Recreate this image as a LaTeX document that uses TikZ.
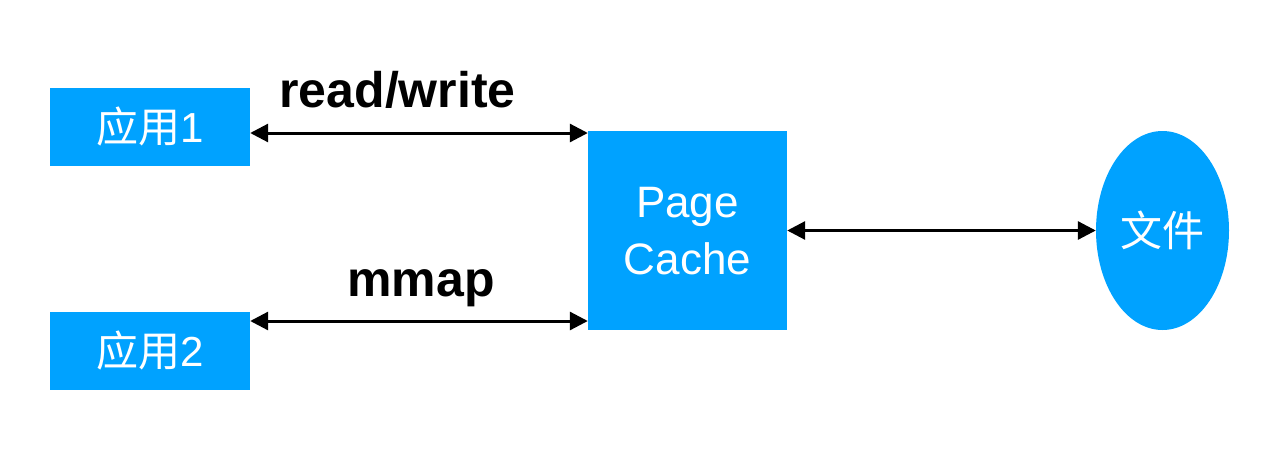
\documentclass[tikz,border=0pt]{standalone}
\usepackage{fontspec}
\setmainfont{Liberation Sans}
\newfontfamily\cjk{Noto Sans CJK SC}
\usetikzlibrary{arrows.meta,shapes.geometric}
\definecolor{boxblue}{RGB}{0,162,255}
\begin{document}
\begin{tikzpicture}[x=1pt,y=-1pt,
  box/.style={fill=boxblue, draw=none, text=white, font=\fontsize{42}{57}\selectfont, inner sep=0pt, align=center},
  arr/.style={{Triangle[length=18pt,width=18pt]}-{Triangle[length=18pt,width=18pt]}, line width=3pt},
  lbl/.style={font=\fontsize{50}{56}\selectfont\bfseries, anchor=base, inner sep=0pt}]
\useasboundingbox (0,0) rectangle (1264,474);
\node[box, minimum width=200pt, minimum height=78pt] (app1) at (150,126.5) {{\cjk 应用}1};
\node[box, minimum width=200pt, minimum height=78pt] (app2) at (150,350.5) {{\cjk 应用}2};
\node[box, minimum width=199pt, minimum height=199pt, font=\fontsize{44}{57}\selectfont] (pc) at (687.5,230.5) {};
\node[text=white, font=\fontsize{44}{57}\selectfont, anchor=base, inner sep=0pt] (pg) at (pc.center |- 0,217) {Page};
\node[text=white, font=\fontsize{44}{57}\selectfont, anchor=base, inner sep=0pt] (ch) at (pc.center |- 0,274) {Cache};
\node[box, ellipse, minimum width=133pt, minimum height=199pt] (file) at (1162.5,230.5) {\cjk 文件};
\draw[arr] (app1.east |- 0,133) -- (pc.west |- 0,133);
\draw[arr] (app2.east |- 0,321) -- (pc.west |- 0,321);
\draw[arr] (pc.east) -- (file.west);
\node[lbl] (rw) at (397.5,107) {read/write};
\node[lbl] (mm) at (421,296) {mmap};
\end{tikzpicture}
\end{document}
